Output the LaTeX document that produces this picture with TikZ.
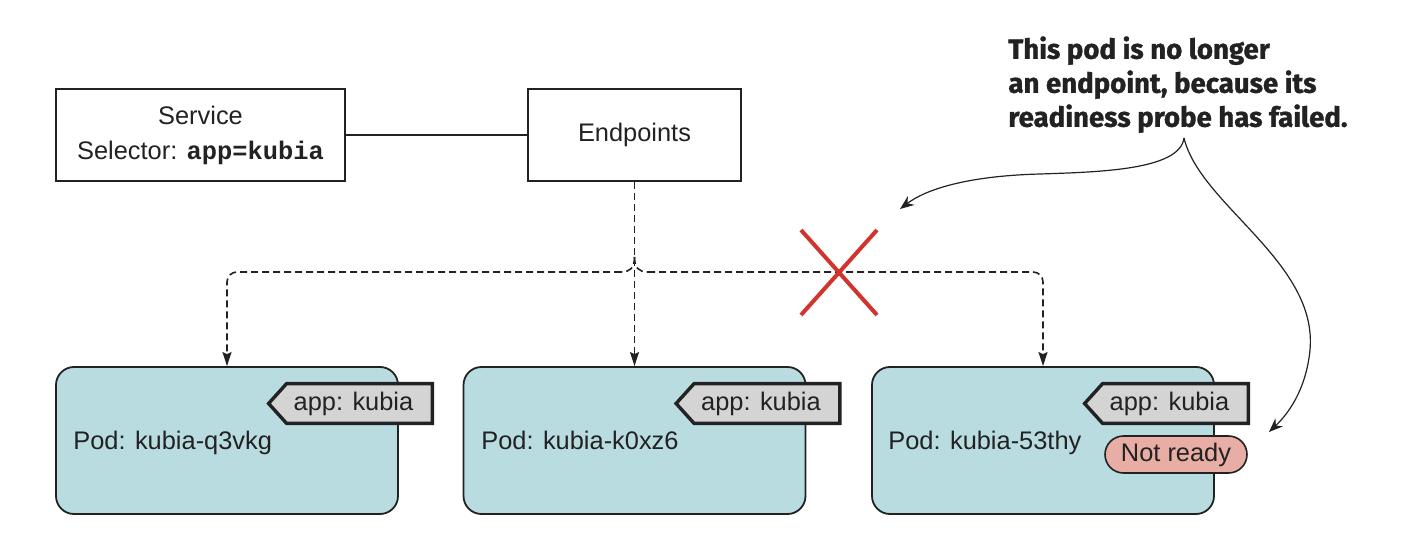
\documentclass[tikz,border=0pt]{standalone}
\usepackage{fontspec}
\setmainfont{Liberation Sans}
\setmonofont{Liberation Mono}
\newfontfamily\notefont{Fira Sans}[BoldFeatures={FakeBold=1.2}]
\usetikzlibrary{arrows.meta}

\definecolor{ink}{HTML}{222222}
\definecolor{podfill}{HTML}{B9DCE1}
\definecolor{tagfill}{HTML}{D4D4D4}
\definecolor{notready}{HTML}{E8ADA4}
\definecolor{crossred}{HTML}{D0342C}

\tikzset{
  box/.style={draw=ink, line width=0.8pt, fill=white, align=center, inner sep=0pt,
    minimum height=46pt},
  pod/.style={draw=ink, line width=0.9pt, fill=podfill, rounded corners=9pt,
    minimum width=171pt, minimum height=73.5pt, inner sep=0pt},
  podname/.style={anchor=base west, inner sep=0pt, text=ink},
  tagbody/.style={minimum width=72.5pt, minimum height=19.5pt, inner sep=0pt},
  tagline/.style={draw=ink, fill=tagfill, line width=1.7pt, line join=miter},
  tagtext/.style={inner sep=0pt, text=ink},
  statebox/.style={draw=ink, line width=0.8pt, fill=notready, rounded corners=9.25pt,
    minimum width=71pt, minimum height=18.5pt, inner sep=0pt, text=ink},
  link/.style={draw=ink, line width=0.8pt},
  feed/.style={draw=ink, line width=0.8pt, dash pattern=on 3.5pt off 2pt,
    -{Stealth[length=7pt, width=4.5pt, inset=1pt]}},
  feedline/.style={draw=ink, line width=0.8pt, dash pattern=on 3.5pt off 2pt},
  cross/.style={draw=crossred, line width=2pt},
  callout/.style={draw=ink, line width=0.6pt, -{Stealth[length=7pt, width=5.5pt]}},
}

\begin{document}
\begin{tikzpicture}[x=0.5pt, y=-0.5pt, font=\fontsize{12.7}{17.5}\selectfont]
\useasboundingbox (0,0) rectangle (1404,540);

% Service and its endpoints object
\node[box, minimum width=144.5pt, text=ink] (svc) at (200.5,135)
  {Service\\Selector: \texttt{\bfseries app=kubia}};
\node[box, minimum width=106.5pt, text=ink] (ep) at (634.5,135) {Endpoints};
\draw[link] (svc.east) -- (ep.east -| ep.west);

% Pods
\node[pod] (pod1) at (227,440.5) {};
\node[pod] (pod2) at (634.5,440.5) {};
\node[pod] (pod3) at (1043,440.5) {};

% Dashed endpoint links
\coordinate (split) at (634.5,257);
\coordinate (lhook) at (621,272);
\coordinate (rhook) at (648,272);
\coordinate (lcorner) at (227,272);
\coordinate (rcorner) at (1043,272);
\draw[feed] (ep.south) -- (pod2.north);
\draw[feedline] (split) .. controls (634.5,268) and (630,272) .. (lhook);
\draw[feedline] (split) .. controls (634.5,268) and (639,272) .. (rhook);
\draw[feed, rounded corners=5pt] (lhook) -- (lcorner) -- (pod1.north);
\draw[feed, rounded corners=5pt] (rhook) -- (rcorner) -- (pod3.north);

% Removed endpoint mark
\coordinate (xa) at (801,230);
\coordinate (xb) at (877,315);
\coordinate (xc) at (877,230);
\coordinate (xd) at (801,315);
\draw[cross] (xa) -- (xb);
\draw[cross] (xc) -- (xd);

% Pod names
\node[podname] (n1) at (73,449) {Pod: kubia-q3vkg};
\node[podname] (n2) at (481,449) {Pod: kubia-k0xz6};
\node[podname] (n3) at (888,449) {Pod: kubia-53thy};

% Label tags
\foreach \p in {1,2,3}{
  \node[tagbody, xshift=66.25pt, yshift=18.5pt] (tag\p) at (pod\p.center) {};
  \path[tagline] (tag\p.north west) -- (tag\p.north east) -- (tag\p.south east)
    -- (tag\p.south west) -- ([xshift=-9pt]tag\p.west) -- cycle;
  \node[tagtext, xshift=-3pt] (tagtext\p) at (tag\p.center) {app: kubia};
}

% Readiness state
\node[statebox] (nr) at (1176,454.5) {Not ready};

% Callout
\node[anchor=north west, inner sep=0pt, align=left, text=ink,
  font=\notefont\bfseries\fontsize{13.8}{17}\selectfont] (note) at (1008,36)
  {This pod is no longer\\an endpoint, because its\\readiness probe has failed.};
\coordinate (cusp) at (1184,138);
\coordinate (gap) at (900,209);
\coordinate (flag) at (1269,432);
\draw[callout] (cusp) .. controls (1180,170) and (1100,172) .. (1040,174)
  .. controls (965,176) and (925,190) .. (gap);
\draw[callout] (cusp) .. controls (1200,205) and (1318,262) .. (1310,350)
  .. controls (1306,390) and (1288,414) .. (flag);
\end{tikzpicture}
\end{document}
